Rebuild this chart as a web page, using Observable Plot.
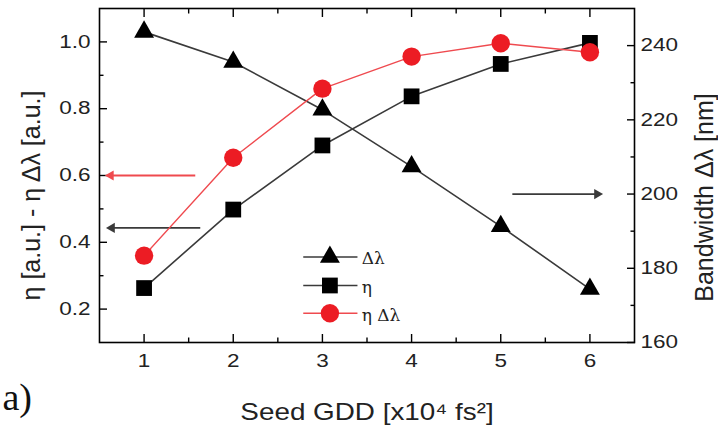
<!DOCTYPE html>
<html>
<head>
<meta charset="utf-8">
<script src="https://cdn.jsdelivr.net/npm/d3@7"></script>
<script src="https://cdn.jsdelivr.net/npm/@observablehq/plot@0.6"></script>
<style>
  html, body { margin: 0; padding: 0; background: #fff; }
  #chart { width: 718px; height: 425px; }
</style>
</head>
<body>
<div id="chart"></div>
<script>
// ---- data ----
const gdd = [1, 2, 3, 4, 5, 6];                                 // Seed GDD [x10^4 fs^2]
const eta = [0.263, 0.498, 0.690, 0.837, 0.934, 0.997];          // η [a.u.]
const etaBandwidth = [0.360, 0.653, 0.860, 0.956, 0.996, 0.969]; // η Δλ [a.u.]
const bandwidth = [243.7, 235.6, 222.7, 207.4, 191.3, 174.4];    // Δλ [nm] (right axis)

const xMajor = [1, 2, 3, 4, 5, 6];
const xMinor = [1.5, 2.5, 3.5, 4.5, 5.5];
const leftMajor = [0.2, 0.4, 0.6, 0.8, 1.0];
const leftMinor = [0.3, 0.5, 0.7, 0.9];
const rightMajor = [160, 180, 200, 220, 240];
const rightMinor = [170, 190, 210, 230];

const leftDomain = [0.1, 1.1];
const rightDomain = [160, 250];
const xDomain = [0.5, 6.5];

const xTitle = "Seed GDD [x10⁴ fs²]";
const leftTitle = "η [a.u.] - η Δλ [a.u.]";
const rightTitle = "Bandwidth Δλ [nm]";
const panelLabel = "a)";

// legend (in data coordinates of the left axis)
const legendLabels = ["Δλ", "η", "η Δλ"];
const legendRowY = [0.356, 0.2707, 0.1877];
const legendLineX = [2.785, 3.393];
const legendMarkX = 3.084;
const legendTextX = 3.441;

// annotation arrows: [x from, x to, y value]
const arrowRedLeft = [1.574, 0.637, 0.6];
const arrowBlackLeft = [1.63, 0.65, 0.443];
const arrowRight = [5.13, 6.07, 200];

// ---- helpers ----
const toLeft = b => leftDomain[0] + (b - rightDomain[0]) / (rightDomain[1] - rightDomain[0]) * (leftDomain[1] - leftDomain[0]);
const fromLeft = v => rightDomain[0] + (v - leftDomain[0]) / (leftDomain[1] - leftDomain[0]) * (rightDomain[1] - rightDomain[0]);

const RED = "#ec1c24";
const RED_LINE = "#ef4a4f";
const BLACK = "#000";
const GRAY_LINE = "#3a3a3a";
const TEXT = "#222";

const rows = gdd.map((g, i) => ({g, eta: eta[i], eb: etaBandwidth[i], bw: toLeft(bandwidth[i])}));
const legendRows = legendLabels.map((label, i) => ({label, y: legendRowY[i]}));

const arrowsL = [
  {x1: arrowRedLeft[0], x2: arrowRedLeft[1], y: arrowRedLeft[2], c: RED_LINE},
  {x1: arrowBlackLeft[0], x2: arrowBlackLeft[1], y: arrowBlackLeft[2], c: GRAY_LINE}
];
const arrowsR = [{x1: arrowRight[0], x2: arrowRight[1], y: toLeft(arrowRight[2]), c: GRAY_LINE}];
const allArrows = arrowsL.concat(arrowsR);

const tickStyle = {stroke: BLACK, strokeWidth: 1.4, label: null};

const plot = Plot.plot({
  width: 718,
  height: 425,
  marginLeft: 99,
  marginRight: 84,
  marginTop: 8,
  marginBottom: 83,
  style: {fontFamily: "'Liberation Sans', Arial, sans-serif", color: TEXT, background: "#fff"},
  x: {domain: xDomain},
  y: {domain: leftDomain},
  marks: [
    // bottom axis
    Plot.axisX({anchor: "bottom", ticks: xMajor, tickSize: -8, tickPadding: 20, tickFormat: d3.format("d"), fontSize: 18, fill: TEXT, ...tickStyle}),
    Plot.axisX({anchor: "bottom", ticks: xMinor, tickSize: -4.5, tickFormat: () => "", ...tickStyle}),
    // top ticks
    Plot.axisX({anchor: "top", ticks: xMajor, tickSize: -8, tickFormat: () => "", ...tickStyle}),
    Plot.axisX({anchor: "top", ticks: xMinor, tickSize: -4.5, tickFormat: () => "", ...tickStyle}),
    // left axis
    Plot.axisY({anchor: "left", ticks: leftMajor, tickSize: -8, tickPadding: 17, tickFormat: d3.format(".1f"), fontSize: 18, fill: TEXT, ...tickStyle}),
    Plot.axisY({anchor: "left", ticks: leftMinor, tickSize: -4.5, tickFormat: () => "", ...tickStyle}),
    // right axis (bandwidth)
    Plot.axisY({anchor: "right", ticks: rightMajor.map(toLeft), tickSize: -8, tickPadding: 14, tickFormat: v => d3.format("d")(Math.round(fromLeft(v))), fontSize: 18, fill: TEXT, ...tickStyle}),
    Plot.axisY({anchor: "right", ticks: rightMinor.map(toLeft), tickSize: -4.5, tickFormat: () => "", ...tickStyle}),

    Plot.frame({stroke: BLACK, strokeWidth: 1.6}),

    // axis titles
    Plot.text([xTitle], {frameAnchor: "bottom", dy: 70, fontSize: 24, fill: TEXT, textAnchor: "middle", lineAnchor: "middle"}),
    Plot.text([leftTitle], {frameAnchor: "left", dx: -68, dy: 20, rotate: -90, fontSize: 25, fill: TEXT, textAnchor: "middle", lineAnchor: "middle"}),
    Plot.text([rightTitle], {frameAnchor: "right", dx: 70, dy: 22, rotate: -90, fontSize: 25, fill: TEXT, textAnchor: "middle", lineAnchor: "middle"}),
    Plot.text([panelLabel], {frameAnchor: "bottom-left", dx: -97, dy: 67, fontSize: 38, fontFamily: "'Liberation Serif', 'DejaVu Serif', serif", fill: "#111", textAnchor: "start", lineAnchor: "bottom"}),

    // arrows
    Plot.link(allArrows, {x1: "x1", x2: "x2", y1: "y", y2: "y", stroke: "c", strokeWidth: 1.8}),
    Plot.dot(arrowsL, {x: "x2", y: "y", symbol: "triangle", r: 3.8, fill: "c", stroke: "none", rotate: -90, dx: -1}),
    Plot.dot(arrowsR, {x: "x2", y: "y", symbol: "triangle", r: 3.8, fill: "c", stroke: "none", rotate: 90, dx: 1}),

    // Δλ series (right axis)
    Plot.line(rows, {x: "g", y: "bw", stroke: GRAY_LINE, strokeWidth: 1.6}),
    Plot.dot(rows, {x: "g", y: "bw", symbol: "triangle", r: 7.4, fill: BLACK, stroke: "none"}),
    // η series
    Plot.line(rows, {x: "g", y: "eta", stroke: GRAY_LINE, strokeWidth: 1.6}),
    Plot.dot(rows, {x: "g", y: "eta", symbol: "square", r: 8.9, fill: BLACK, stroke: "none"}),
    // η Δλ series
    Plot.line(rows, {x: "g", y: "eb", stroke: RED_LINE, strokeWidth: 1.4}),
    Plot.dot(rows, {x: "g", y: "eb", symbol: "circle", r: 9.2, fill: RED, stroke: "none"}),

    // legend
    Plot.link([legendRows[0], legendRows[1]], {x1: legendLineX[0], x2: legendLineX[1], y1: "y", y2: "y", stroke: GRAY_LINE, strokeWidth: 1.5}),
    Plot.link([legendRows[2]], {x1: legendLineX[0], x2: legendLineX[1], y1: "y", y2: "y", stroke: RED_LINE, strokeWidth: 1.4}),
    Plot.dot([legendRows[0]], {x: legendMarkX, y: "y", symbol: "triangle", r: 7.4, fill: BLACK, stroke: "none"}),
    Plot.dot([legendRows[1]], {x: legendMarkX, y: "y", symbol: "square", r: 8.9, fill: BLACK, stroke: "none"}),
    Plot.dot([legendRows[2]], {x: legendMarkX, y: "y", symbol: "circle", r: 9.2, fill: RED, stroke: "none"}),
    Plot.text(legendRows, {x: legendTextX, y: "y", text: "label", textAnchor: "start", lineAnchor: "middle", dy: 2, fontSize: 17, fontFamily: "'DejaVu Serif', 'Liberation Serif', serif", fill: TEXT})
  ]
});

// the reference's horizontal labels are drawn noticeably wide; stretch them horizontally
const stretch = {"x-axis tick label": 1.25, "y-axis tick label": 1.25};
d3.select(plot).selectAll("g[aria-label]").each(function() {
  const k = stretch[this.getAttribute("aria-label")];
  if (!k) return;
  d3.select(this).selectAll("text").each(function() {
    const t = this.getAttribute("transform");
    if (t && !/rotate/.test(t)) this.setAttribute("transform", t + ` scale(${k},1)`);
  });
});
d3.select(plot).selectAll("text").each(function() {
  const t = this.getAttribute("transform");
  if (this.textContent === xTitle && t && !/rotate/.test(t)) this.setAttribute("transform", t + " scale(1.16,1)");
});

document.getElementById("chart").appendChild(plot);
</script>
</body>
</html>
